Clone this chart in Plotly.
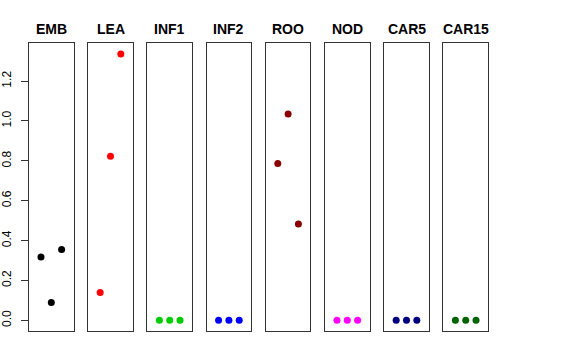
import plotly.graph_objects as go

categories = ["EMB", "LEA", "INF1", "INF2", "ROO", "NOD", "CAR5", "CAR15"]
x_positions = [1, 2, 3]
values = {
    "EMB": [0.318, 0.090, 0.355],
    "LEA": [0.140, 0.823, 1.336],
    "INF1": [0.0, 0.0, 0.0],
    "INF2": [0.0, 0.0, 0.0],
    "ROO": [0.787, 1.035, 0.483],
    "NOD": [0.0, 0.0, 0.0],
    "CAR5": [0.0, 0.0, 0.0],
    "CAR15": [0.0, 0.0, 0.0],
}
colors = ["#000000", "#FF0000", "#00CD00", "#0000FF", "#8B0000", "#FF00FF", "#000080", "#006400"]
y_ticks = [0.0, 0.2, 0.4, 0.6, 0.8, 1.0, 1.2]
y_tick_labels = ["0.0", "0.2", "0.4", "0.6", "0.8", "1.0", "1.2"]

W, H = 576, 360
panel_left0 = 29.0
panel_width = 44.6
panel_step = 59.2
panel_top = 43.3
panel_bottom = 331.0
title_y = 29.0

ymax = 1.336
ypad = ymax * 0.04
y_range = [-ypad, ymax + ypad]
x_range = [-0.16, 4.16]

fig = go.Figure()
layout = {}
for i, cat in enumerate(categories):
    n = i + 1
    xa = "x" if n == 1 else f"x{n}"
    ya = "y" if n == 1 else f"y{n}"
    fig.add_trace(go.Scatter(
        x=x_positions, y=values[cat], mode="markers",
        marker=dict(color=colors[i], size=7),
        xaxis=xa, yaxis=ya, showlegend=False, hoverinfo="skip"))
    left = panel_left0 + i * panel_step
    dom_x = [left / W, (left + panel_width) / W]
    dom_y = [(H - panel_bottom) / H, (H - panel_top) / H]
    layout[f"xaxis{n}" if n > 1 else "xaxis"] = dict(
        domain=dom_x, range=x_range, showgrid=False, zeroline=False,
        showticklabels=False, ticks="", showline=True, mirror=True,
        linecolor="#333333", linewidth=1, anchor=ya, automargin=False)
    yax = dict(
        domain=dom_y, range=y_range, showgrid=False, zeroline=False,
        showline=True, mirror=True, linecolor="#333333", linewidth=1,
        anchor=xa, automargin=False)
    if n == 1:
        yax.update(tickmode="array", tickvals=y_ticks, ticktext=y_tick_labels,
                   ticks="outside", ticklen=7, tickcolor="#333333",
                   ticklabelstandoff=5,
                   tickangle=-90, tickfont=dict(size=12, color="#000000",
                                                family="Liberation Sans, Arial, sans-serif"))
    else:
        yax.update(showticklabels=False, ticks="")
    layout[f"yaxis{n}" if n > 1 else "yaxis"] = yax
    fig.add_annotation(
        text=f"<b>{cat}</b>", x=(left + panel_width / 2) / W, y=(H - title_y) / H,
        xref="paper", yref="paper", showarrow=False, xanchor="center", yanchor="middle",
        font=dict(size=14, color="#000000", family="Liberation Sans, Arial, sans-serif"))

fig.update_layout(
    width=W, height=H, margin=dict(l=0, r=0, t=0, b=0),
    paper_bgcolor="white", plot_bgcolor="white",
    font=dict(family="Liberation Sans, Arial, sans-serif"),
    **layout)

fig.write_html("out.html", config={"displayModeBar": False},
               post_script="document.body.style.margin='0';")
